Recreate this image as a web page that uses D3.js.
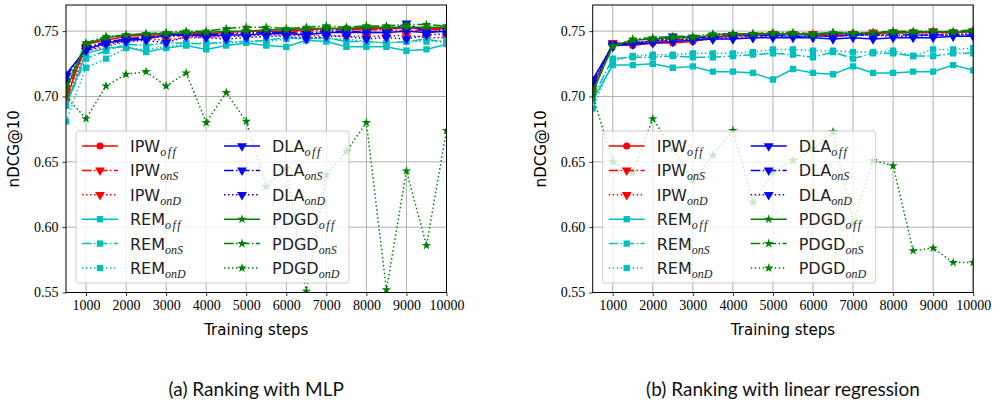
<!DOCTYPE html>
<html>
<head>
<meta charset="utf-8">
<script src="https://cdn.jsdelivr.net/npm/d3@7"></script>
<style>
  body { margin: 0; background: #fff; }
  svg { display: block; }
</style>
</head>
<body>
<div id="chart"></div>
<script>
// training steps on the x axis
var steps = [500, 1000, 1500, 2000, 2500, 3000, 3500, 4000, 4500, 5000,
             5500, 6000, 6500, 7000, 7500, 8000, 8500, 9000, 9500, 10000];
var xTicks = [1000, 2000, 3000, 4000, 5000, 6000, 7000, 8000, 9000, 10000];
var yTicks = [0.55, 0.60, 0.65, 0.70, 0.75];

// (a) ranking with MLP
var mlp_IPW_off  = [0.698,0.740,0.743,0.746,0.747,0.747,0.748,0.748,0.749,0.750,0.750,0.750,0.751,0.752,0.752,0.752,0.752,0.752,0.752,0.752];
var mlp_IPW_onS  = [0.702,0.738,0.741,0.744,0.746,0.746,0.747,0.748,0.748,0.749,0.749,0.749,0.750,0.751,0.751,0.751,0.751,0.750,0.751,0.751];
var mlp_IPW_onD  = [0.696,0.735,0.738,0.742,0.744,0.743,0.745,0.745,0.746,0.746,0.747,0.747,0.746,0.747,0.746,0.746,0.746,0.747,0.745,0.745];
var mlp_REM_off  = [0.693,0.733,0.737,0.738,0.734,0.737,0.739,0.736,0.739,0.741,0.739,0.738,0.743,0.742,0.738,0.738,0.738,0.735,0.736,0.740];
var mlp_REM_onS  = [0.693,0.729,0.735,0.740,0.739,0.741,0.741,0.740,0.742,0.742,0.743,0.745,0.744,0.745,0.742,0.742,0.741,0.742,0.744,0.741];
var mlp_REM_onD  = [0.681,0.722,0.729,0.737,0.736,0.738,0.740,0.741,0.741,0.742,0.742,0.744,0.745,0.744,0.744,0.742,0.741,0.742,0.742,0.743];
var mlp_DLA_off  = [0.717,0.736,0.741,0.743,0.744,0.747,0.747,0.746,0.747,0.747,0.748,0.748,0.747,0.749,0.749,0.749,0.749,0.750,0.749,0.750];
var mlp_DLA_onS  = [0.715,0.737,0.742,0.744,0.745,0.746,0.747,0.747,0.748,0.748,0.749,0.749,0.748,0.750,0.750,0.749,0.749,0.756,0.749,0.751];
var mlp_DLA_onD  = [0.712,0.735,0.740,0.742,0.743,0.741,0.746,0.745,0.744,0.745,0.746,0.746,0.744,0.746,0.746,0.744,0.745,0.744,0.747,0.748];
var mlp_PDGD_off = [0.705,0.740,0.745,0.747,0.748,0.748,0.749,0.749,0.750,0.750,0.751,0.751,0.752,0.752,0.752,0.753,0.753,0.753,0.753,0.753];
var mlp_PDGD_onS = [0.707,0.741,0.746,0.747,0.748,0.749,0.750,0.750,0.752,0.753,0.753,0.752,0.753,0.754,0.753,0.754,0.754,0.755,0.755,0.754];
var mlp_PDGD_onD = [0.700,0.683,0.708,0.717,0.719,0.708,0.718,0.680,0.703,0.681,0.631,0.645,0.551,0.640,0.658,0.680,0.552,0.643,0.586,0.674];

// (b) ranking with linear regression
var lin_IPW_off  = [0.708,0.740,0.739,0.741,0.741,0.742,0.745,0.747,0.747,0.748,0.748,0.747,0.748,0.748,0.748,0.749,0.749,0.749,0.749,0.750];
var lin_IPW_onS  = [0.706,0.741,0.741,0.742,0.743,0.744,0.745,0.746,0.747,0.748,0.748,0.747,0.747,0.748,0.749,0.749,0.749,0.750,0.749,0.750];
var lin_IPW_onD  = [0.704,0.739,0.741,0.743,0.744,0.744,0.746,0.747,0.747,0.748,0.747,0.748,0.746,0.748,0.747,0.748,0.748,0.749,0.748,0.749];
var lin_REM_off  = [0.697,0.724,0.724,0.725,0.722,0.723,0.719,0.719,0.718,0.713,0.721,0.718,0.717,0.723,0.718,0.718,0.719,0.719,0.724,0.720];
var lin_REM_onS  = [0.699,0.729,0.730,0.730,0.731,0.730,0.730,0.731,0.732,0.733,0.732,0.730,0.734,0.729,0.733,0.733,0.731,0.731,0.733,0.733];
var lin_REM_onD  = [0.691,0.727,0.731,0.732,0.732,0.733,0.733,0.733,0.734,0.736,0.736,0.735,0.735,0.734,0.734,0.735,0.731,0.736,0.736,0.737];
var lin_DLA_off  = [0.713,0.739,0.740,0.741,0.742,0.743,0.744,0.744,0.745,0.745,0.745,0.745,0.744,0.745,0.744,0.745,0.745,0.745,0.746,0.746];
var lin_DLA_onS  = [0.711,0.740,0.741,0.742,0.746,0.745,0.745,0.747,0.746,0.747,0.746,0.746,0.746,0.747,0.747,0.747,0.747,0.747,0.747,0.747];
var lin_DLA_onD  = [0.709,0.738,0.741,0.742,0.744,0.743,0.744,0.745,0.745,0.746,0.746,0.746,0.746,0.747,0.747,0.746,0.746,0.747,0.747,0.748];
var lin_PDGD_off = [0.703,0.739,0.743,0.744,0.745,0.745,0.747,0.748,0.748,0.748,0.748,0.747,0.749,0.748,0.749,0.749,0.749,0.750,0.749,0.750];
var lin_PDGD_onS = [0.705,0.738,0.744,0.745,0.746,0.746,0.748,0.748,0.748,0.749,0.749,0.748,0.749,0.749,0.749,0.750,0.750,0.750,0.750,0.751];
var lin_PDGD_onD = [0.701,0.650,0.642,0.683,0.660,0.636,0.655,0.674,0.619,0.642,0.651,0.660,0.673,0.603,0.651,0.647,0.582,0.584,0.573,0.573];

var methods = ["IPW", "REM", "DLA", "PDGD"];
var variants = ["off", "onS", "onD"];
var colors = {IPW: "#ff0000", REM: "#00bfbf", DLA: "#0000ff", PDGD: "#008000"};
var dashes = {off: null, onS: "9.6,2.4,1.5,2.4", onD: "1.5,2.5"};

var panels = [
  {id: "a", left: 66, caption: "(a) Ranking with MLP",
   series: {IPW_off: mlp_IPW_off, IPW_onS: mlp_IPW_onS, IPW_onD: mlp_IPW_onD,
            REM_off: mlp_REM_off, REM_onS: mlp_REM_onS, REM_onD: mlp_REM_onD,
            DLA_off: mlp_DLA_off, DLA_onS: mlp_DLA_onS, DLA_onD: mlp_DLA_onD,
            PDGD_off: mlp_PDGD_off, PDGD_onS: mlp_PDGD_onS, PDGD_onD: mlp_PDGD_onD}},
  {id: "b", left: 592.7, caption: "(b) Ranking with linear regression",
   series: {IPW_off: lin_IPW_off, IPW_onS: lin_IPW_onS, IPW_onD: lin_IPW_onD,
            REM_off: lin_REM_off, REM_onS: lin_REM_onS, REM_onD: lin_REM_onD,
            DLA_off: lin_DLA_off, DLA_onS: lin_DLA_onS, DLA_onD: lin_DLA_onD,
            PDGD_off: lin_PDGD_off, PDGD_onS: lin_PDGD_onS, PDGD_onD: lin_PDGD_onD}}
];

var plotW = 380.5, plotTop = 5, plotH = 287.5;

var svg = d3.select("#chart").append("svg")
    .attr("width", 1001)
    .attr("height", 406);

// marker shape for a series
function markerPath(method, variant) {
  if (method === "IPW" && variant === "off") return d3.symbol(d3.symbolCircle, 40)();
  if (method === "REM") return d3.symbol(d3.symbolSquare, 40)();
  if (method === "PDGD") return d3.symbol(d3.symbolStar, 28)();
  return d3.symbol(d3.symbolTriangle, 42)();
}
function markerRotate(method, variant) {
  if ((method === "IPW" && variant !== "off") || method === "DLA") return " rotate(180)";
  return "";
}

panels.forEach(function(p) {
  var x = d3.scaleLinear().domain([500, 10000]).range([0, plotW]);
  var y = d3.scaleLinear().domain([0.55, 0.77]).range([plotH, 0]);

  var g = svg.append("g")
      .attr("transform", "translate(" + p.left + "," + plotTop + ")");

  g.append("clipPath").attr("id", "clip" + p.id)
    .append("rect").attr("width", plotW).attr("height", plotH);

  // grid
  g.append("g").selectAll("line").data(xTicks).enter().append("line")
      .attr("x1", function(d) { return x(d); }).attr("x2", function(d) { return x(d); })
      .attr("y1", 0).attr("y2", plotH)
      .style("stroke", "#b0b0b0").style("stroke-width", 1);
  g.append("g").selectAll("line").data(yTicks).enter().append("line")
      .attr("y1", function(d) { return y(d); }).attr("y2", function(d) { return y(d); })
      .attr("x1", 0).attr("x2", plotW)
      .style("stroke", "#b0b0b0").style("stroke-width", 1);

  // lines and markers
  var plot = g.append("g").attr("clip-path", "url(#clip" + p.id + ")");
  var line = d3.line()
      .x(function(d, i) { return x(steps[i]); })
      .y(function(d) { return y(d); });

  methods.forEach(function(m) {
    variants.forEach(function(v) {
      var vals = p.series[m + "_" + v];
      plot.append("path")
          .attr("d", line(vals))
          .style("fill", "none")
          .style("stroke", colors[m])
          .style("stroke-width", 1.5)
          .style("stroke-dasharray", dashes[v]);
      plot.selectAll(null).data(vals).enter().append("path")
          .attr("d", markerPath(m, v))
          .attr("transform", function(d, i) {
            return "translate(" + x(steps[i]) + "," + y(d) + ")" + markerRotate(m, v);
          })
          .style("fill", colors[m]);
    });
  });

  // axes
  var xAxis = g.append("g")
      .attr("transform", "translate(0," + plotH + ")")
      .call(d3.axisBottom(x).tickValues(xTicks).tickSize(3.5).tickPadding(4).tickFormat(d3.format("d")));
  var yAxis = g.append("g")
      .call(d3.axisLeft(y).tickValues(yTicks).tickSize(3.5).tickPadding(4).tickFormat(d3.format(".2f")));
  [xAxis, yAxis].forEach(function(a) {
    a.select(".domain").remove();
    a.selectAll(".tick line").style("stroke", "#000").style("stroke-width", 0.8);
    a.selectAll(".tick text")
        .style("font-family", "'Liberation Serif', serif")
        .style("font-size", "14px")
        .style("fill", "#000");
  });

  g.append("rect")
      .attr("width", plotW).attr("height", plotH)
      .style("fill", "none").style("stroke", "#000").style("stroke-width", 1);

  // axis labels
  g.append("text")
      .attr("x", plotW / 2).attr("y", plotH + 42)
      .style("text-anchor", "middle")
      .style("font-family", "'DejaVu Sans', sans-serif")
      .style("font-size", "15px")
      .text("Training steps");
  g.append("text")
      .attr("transform", "rotate(-90)")
      .attr("x", -plotH / 2).attr("y", -47)
      .style("text-anchor", "middle")
      .style("font-family", "'DejaVu Sans', sans-serif")
      .style("font-size", "15px")
      .text("nDCG@10");

  // legend
  var lg = g.append("g").attr("transform", "translate(10,126)");
  lg.append("rect")
      .attr("width", 273).attr("height", 152).attr("rx", 3)
      .style("fill", "#fff").style("fill-opacity", 0.8)
      .style("stroke", "#cccccc").style("stroke-width", 1);
  methods.forEach(function(m, mi) {
    variants.forEach(function(v, vi) {
      var col = Math.floor(mi / 2), row = (mi % 2) * 3 + vi;
      var ex = 6 + col * 142, ey = 15 + row * 24.4;
      var e = lg.append("g").attr("transform", "translate(" + ex + "," + ey + ")");
      e.append("line")
          .attr("x1", 0).attr("x2", 36)
          .style("stroke", colors[m]).style("stroke-width", 1.5)
          .style("stroke-dasharray", dashes[v]);
      e.append("path")
          .attr("d", markerPath(m, v))
          .attr("transform", "translate(18,0)" + markerRotate(m, v))
          .style("fill", colors[m]);
      var t = e.append("text")
          .attr("x", 48).attr("y", 6)
          .style("font-family", "'DejaVu Sans', sans-serif")
          .style("font-size", "16px")
          .style("fill", "#222");
      t.append("tspan").text(m);
      t.append("tspan")
          .attr("dy", 4)
          .style("font-family", "'Liberation Serif', serif")
          .style("font-style", "italic")
          .style("font-size", "12px")
          .style("letter-spacing", v === "off" ? "1.5px" : "0px")
          .text(v);
    });
  });

  // caption
  svg.append("text")
      .attr("x", p.left + plotW / 2).attr("y", 396)
      .style("text-anchor", "middle")
      .style("font-family", "Lato, sans-serif")
      .style("font-size", "19px")
      .style("fill", "#111")
      .text(p.caption);
});
</script>
</body>
</html>
